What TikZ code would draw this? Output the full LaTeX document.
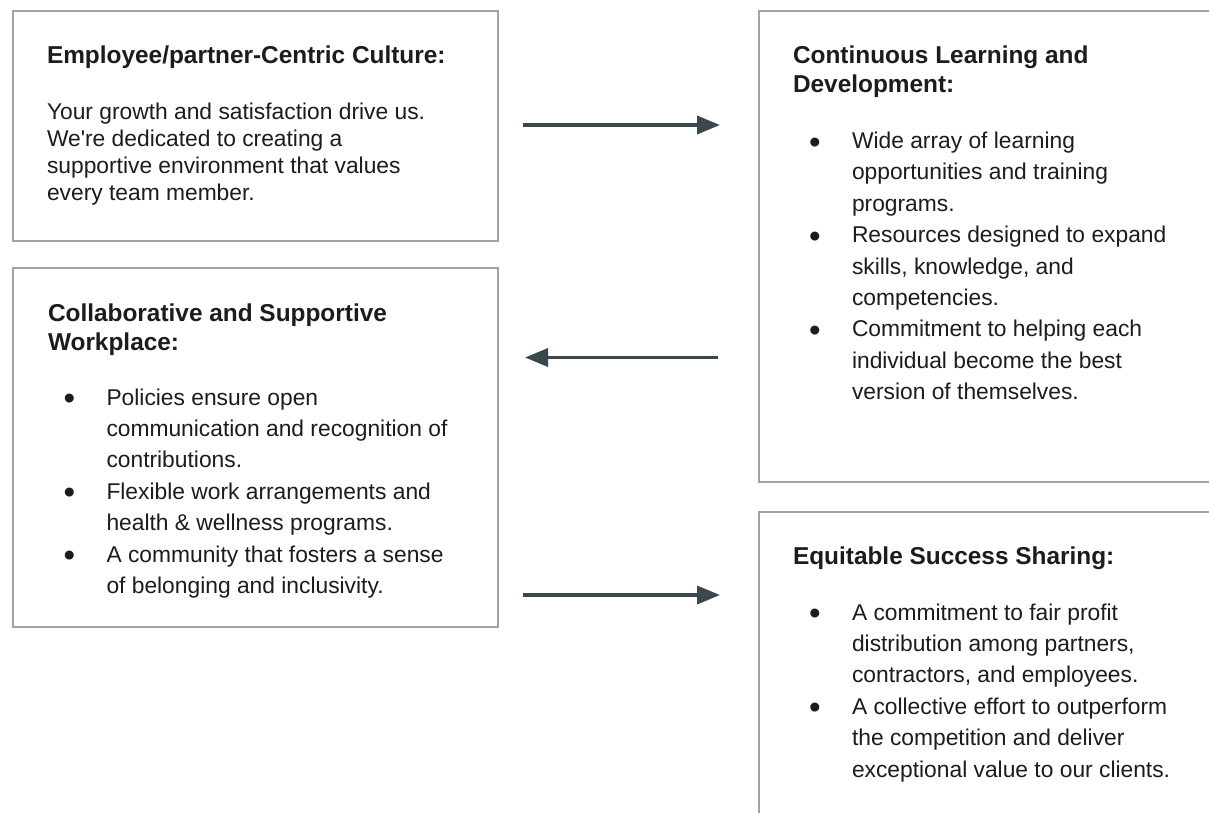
\documentclass[tikz,border=0pt]{standalone}
\usepackage{fontspec}
\setmainfont{Liberation Sans}
\usetikzlibrary{arrows.meta}
\definecolor{boxgray}{HTML}{A3A3A3}
\definecolor{arrowdark}{HTML}{3A484D}
\definecolor{txt}{HTML}{1C1C1C}
\tikzset{
  panel/.style={draw=boxgray, line width=1.6pt, fill=white, inner sep=0pt, outer sep=0pt, anchor=north west},
  ttl/.style={font=\bfseries\fontsize{24.4}{29}\selectfont, text=txt, inner sep=0pt, outer sep=0pt, anchor=base west},
  body/.style={font=\fontsize{22.8}{27.2}\selectfont, text=txt, inner sep=0pt, outer sep=0pt, anchor=base west},
  bul/.style={font=\fontsize{33}{33}\selectfont, text=txt, inner sep=0pt, outer sep=0pt, anchor=base},
  flow/.style={draw=arrowdark, line width=3.5pt, -{Triangle[length=23pt, width=18pt]}}
}
\begin{document}
\begin{tikzpicture}[x=1pt, y=-1pt]
\clip (0,0) rectangle (1209,812);
\fill[white] (0,0) rectangle (1209,812);

% panels
\node[panel, minimum width=485pt, minimum height=230pt] (p1) at (13,11) {};
\node[panel, minimum width=470pt, minimum height=471pt] (p2) at (759,11) {};
\node[panel, minimum width=485pt, minimum height=359pt] (p3) at (13,268) {};
\node[panel, minimum width=470pt, minimum height=330pt] (p4) at (759,512) {};

% panel 1
\node[ttl] (t1) at (47,63) {Employee/partner-Centric Culture:};
\foreach \t [count=\i from 0] in {{Your growth and satisfaction drive us.},{We\textquotesingle re dedicated to creating a},{supportive environment that values},{every team member.}}
  \node[body, name=b1-\i] at (47,119.3+27.2*\i) {\t};

% panel 2
\node[ttl] (t2a) at (793,63) {Continuous Learning and};
\node[ttl] (t2b) at (793,92.5) {Development:};
\foreach \t [count=\i from 0] in {{Wide array of learning},{opportunities and training},{programs.},{Resources designed to expand},{skills, knowledge, and},{competencies.},{Commitment to helping each},{individual become the best},{version of themselves.}}
  \node[body, name=b2-\i] at (852,148.5+31.4*\i) {\t};
\foreach \k in {0,3,6}
  \node[bul, name=u2-\k] at (815,153+31.4*\k) {•};

% panel 3
\node[ttl] (t3a) at (48,321.5) {Collaborative and Supportive};
\node[ttl] (t3b) at (48,350) {Workplace:};
\foreach \t [count=\i from 0] in {{Policies ensure open},{communication and recognition of},{contributions.},{Flexible work arrangements and},{health \& wellness programs.},{A community that fosters a sense},{of belonging and inclusivity.}}
  \node[body, name=b3-\i] at (106.5,405+31.4*\i) {\t};
\foreach \k in {0,3,5}
  \node[bul, name=u3-\k] at (69.5,409.5+31.4*\k) {•};

% panel 4
\node[ttl] (t4) at (793,564) {Equitable Success Sharing:};
\foreach \t [count=\i from 0] in {{A commitment to fair profit},{distribution among partners,},{contractors, and employees.},{A collective effort to outperform},{the competition and deliver},{exceptional value to our clients.}}
  \node[body, name=b4-\i] at (852,620+31.4*\i) {\t};
\foreach \k in {0,3}
  \node[bul, name=u4-\k] at (815,624.5+31.4*\k) {•};

% connectors
\coordinate (a1s) at (523,125);
\coordinate (a1e) at (720,125);
\coordinate (a2s) at (718,357.5);
\coordinate (a2e) at (525,357.5);
\coordinate (a3s) at (523,595);
\coordinate (a3e) at (720,595);
\draw[flow] (a1s) -- (a1e);
\draw[flow] (a2s) -- (a2e);
\draw[flow] (a3s) -- (a3e);
\end{tikzpicture}
\end{document}
